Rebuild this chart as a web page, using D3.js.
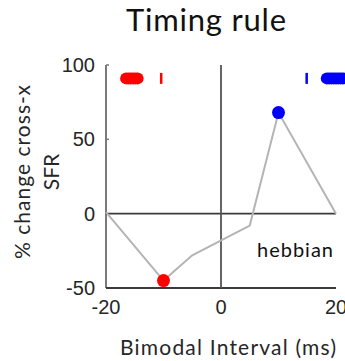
<!DOCTYPE html>
<html>
<head>
<meta charset="utf-8">
<script src="https://cdn.jsdelivr.net/npm/d3@7"></script>
<style>
  body { margin: 0; background: #ffffff; }
  svg { display: block; }
</style>
</head>
<body>
<div id="chart"></div>
<script>
// Data
const intervals = [-20, -10, -5, 5, 10, 20];
const pctChange = [1, -45, -28, -8, 68, 0];
const redPoint = { x: -10, y: -45 };
const bluePoint = { x: 10, y: 68 };
const rasterY = 91;
const redRaster = [-16.5, -16.1, -15.7, -15.3, -14.9, -14.5];
const redTick = [-10.4];
const blueRaster = [18.4, 18.8, 19.2, 19.6, 20.0, 20.4, 20.8, 21.2];
const blueTick = [14.9];
const xTicks = [-20, 0, 20];
const yTicks = [-50, 0, 50, 100];

const width = 345;
const height = 361;

const svg = d3.select('#chart')
    .append('svg')
    .attr('width', width)
    .attr('height', height);

const x = d3.scaleLinear().domain([-20, 20]).range([106, 336]);
const y = d3.scaleLinear().domain([-50, 100]).range([288, 65]);

const font = 'Lato, "Open Sans", sans-serif';
const textColor = '#262626';

// Title
svg.append('text')
    .attr('x', 206)
    .attr('y', 31)
    .attr('text-anchor', 'middle')
    .attr('font-family', font)
    .attr('font-size', 31)
    .attr('textLength', 160)
    .attr('lengthAdjust', 'spacing')
    .attr('fill', '#111')
    .text('Timing rule');

// Left axis (gray)
svg.append('line')
    .attr('x1', x(-20)).attr('x2', x(-20))
    .attr('y1', y(100)).attr('y2', y(-50))
    .attr('stroke', '#7a7a7a')
    .attr('stroke-width', 2);

// Small inward ticks on left axis
svg.selectAll('.ytick')
    .data(yTicks)
    .enter()
    .append('line')
    .attr('class', 'ytick')
    .attr('x1', x(-20)).attr('x2', x(-20) + 3)
    .attr('y1', d => y(d)).attr('y2', d => y(d))
    .attr('stroke', '#7a7a7a')
    .attr('stroke-width', 1.5);

// Bottom axis
svg.append('line')
    .attr('x1', x(-20)).attr('x2', x(20))
    .attr('y1', y(-50)).attr('y2', y(-50))
    .attr('stroke', '#3a3a3a')
    .attr('stroke-width', 2);

// Zero lines
svg.append('line')
    .attr('x1', x(-20)).attr('x2', x(20))
    .attr('y1', y(0)).attr('y2', y(0))
    .attr('stroke', '#3a3a3a')
    .attr('stroke-width', 1.8);

svg.append('line')
    .attr('x1', x(0)).attr('x2', x(0))
    .attr('y1', y(100)).attr('y2', y(-50))
    .attr('stroke', '#555')
    .attr('stroke-width', 1.8);

// Tick labels
svg.selectAll('.xlab')
    .data(xTicks)
    .enter()
    .append('text')
    .attr('class', 'xlab')
    .attr('x', d => x(d))
    .attr('y', 314)
    .attr('text-anchor', 'middle')
    .attr('font-family', '"Liberation Sans", Arial, sans-serif')
    .attr('font-size', 20)
    .attr('fill', textColor)
    .text(d => d);

svg.selectAll('.ylab')
    .data(yTicks)
    .enter()
    .append('text')
    .attr('class', 'ylab')
    .attr('x', 95)
    .attr('y', d => y(d) + 7)
    .attr('text-anchor', 'end')
    .attr('font-family', '"Liberation Sans", Arial, sans-serif')
    .attr('font-size', 20)
    .attr('fill', textColor)
    .text(d => d);

// Data line
const line = d3.line()
    .x((d, i) => x(intervals[i]))
    .y(d => y(d));

svg.append('path')
    .datum(pctChange)
    .attr('d', line)
    .attr('fill', 'none')
    .attr('stroke', '#b4b4b4')
    .attr('stroke-width', 2);

// Highlight points
svg.append('circle')
    .attr('cx', x(redPoint.x)).attr('cy', y(redPoint.y))
    .attr('r', 6.5)
    .attr('fill', '#ff0000');

svg.append('circle')
    .attr('cx', x(bluePoint.x)).attr('cy', y(bluePoint.y))
    .attr('r', 6.5)
    .attr('fill', '#0000ff');

// Raster markers at top
svg.selectAll('.rred')
    .data(redRaster)
    .enter()
    .append('circle')
    .attr('class', 'rred')
    .attr('cx', d => x(d)).attr('cy', y(rasterY))
    .attr('r', 6)
    .attr('fill', '#ff0000');

svg.selectAll('.rblue')
    .data(blueRaster)
    .enter()
    .append('circle')
    .attr('class', 'rblue')
    .attr('cx', d => x(d)).attr('cy', y(rasterY))
    .attr('r', 6)
    .attr('fill', '#0000ff');

svg.selectAll('.tred')
    .data(redTick)
    .enter()
    .append('line')
    .attr('x1', d => x(d)).attr('x2', d => x(d))
    .attr('y1', y(rasterY) - 5.5).attr('y2', y(rasterY) + 5.5)
    .attr('stroke', '#ff0000')
    .attr('stroke-width', 2.5);

svg.selectAll('.tblue')
    .data(blueTick)
    .enter()
    .append('line')
    .attr('x1', d => x(d)).attr('x2', d => x(d))
    .attr('y1', y(rasterY) - 5.5).attr('y2', y(rasterY) + 5.5)
    .attr('stroke', '#0000ff')
    .attr('stroke-width', 2.5);

// Annotation
svg.append('text')
    .attr('x', 333)
    .attr('y', 257)
    .attr('text-anchor', 'end')
    .attr('font-family', font)
    .attr('font-size', 20)
    .attr('textLength', 76)
    .attr('lengthAdjust', 'spacing')
    .attr('fill', '#111')
    .text('hebbian');

// Axis titles
svg.append('text')
    .attr('x', 228)
    .attr('y', 355)
    .attr('text-anchor', 'middle')
    .attr('font-family', font)
    .attr('font-size', 21)
    .attr('textLength', 216)
    .attr('lengthAdjust', 'spacing')
    .attr('fill', textColor)
    .text('Bimodal Interval (ms)');

const yTitle = svg.append('text')
    .attr('transform', 'translate(30,172) rotate(-90)')
    .attr('text-anchor', 'middle')
    .attr('font-family', font)
    .attr('font-size', 21)
    .attr('fill', textColor);

yTitle.append('tspan').attr('x', 0).attr('y', 0)
    .attr('textLength', 174).attr('lengthAdjust', 'spacing')
    .text('% change cross-x');
yTitle.append('tspan').attr('x', 0).attr('y', 29).text('SFR');
</script>
</body>
</html>
